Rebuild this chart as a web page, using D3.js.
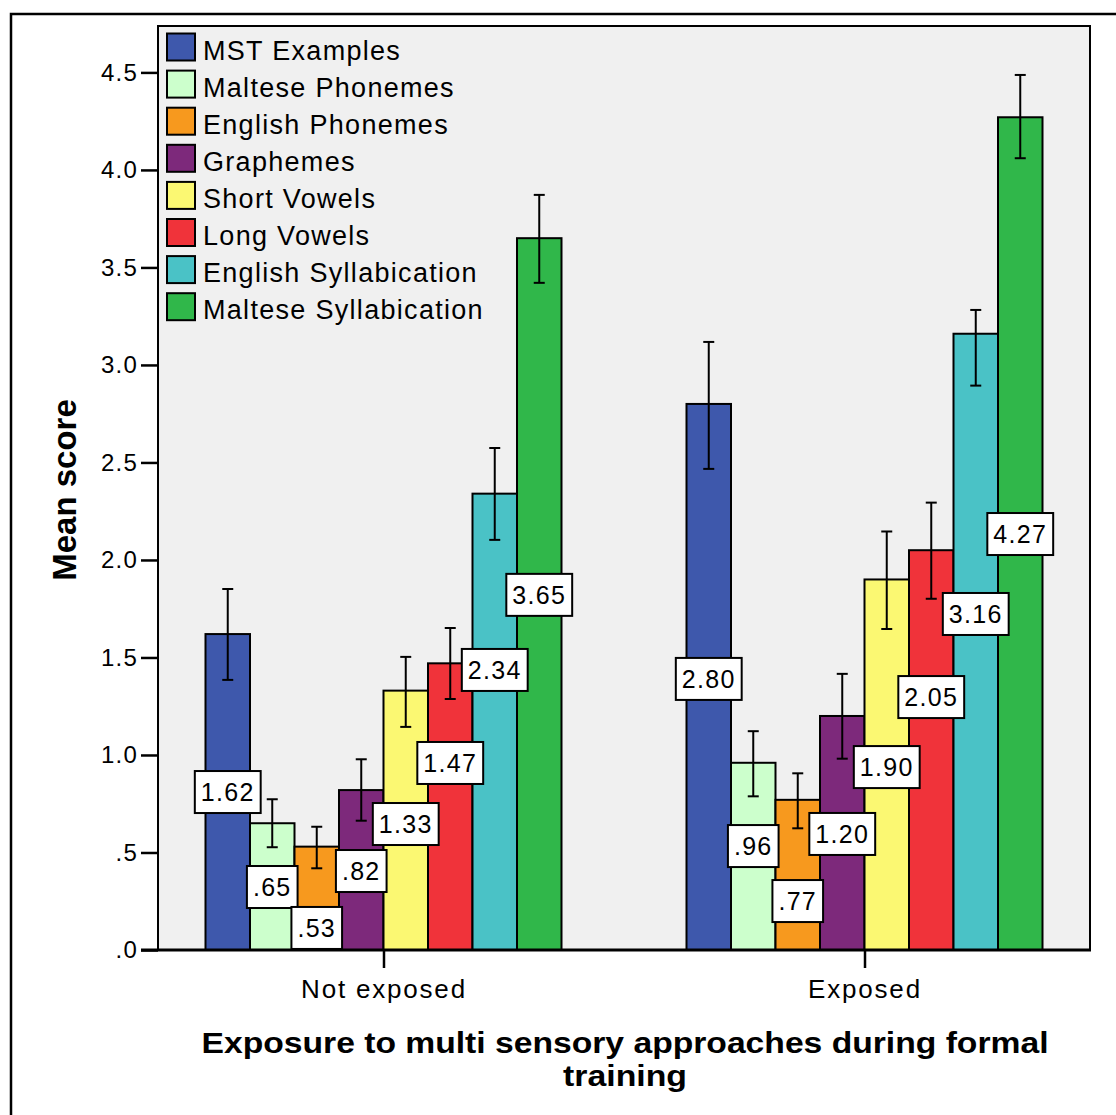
<!DOCTYPE html>
<html><head><meta charset="utf-8">
<script src="https://cdn.jsdelivr.net/npm/d3@7"></script>
<style>
html,body{margin:0;padding:0;background:#fff;}
svg text{font-family:"Liberation Sans",Arial,sans-serif;fill:#000;}
</style></head>
<body>
<svg id="chart" width="1116" height="1115"></svg>
<script>
const groups = ["Not exposed", "Exposed"];
const seriesNames = ["MST Examples","Maltese Phonemes","English Phonemes","Graphemes","Short Vowels","Long Vowels","English Syllabication","Maltese Syllabication"];
const seriesColors = ["#3e58ac","#ccffcc","#f7991e","#7d297b","#fbf872","#f0333a","#4ac2c6","#30b74a"];
const notExposedMeans = [1.62, 0.65, 0.53, 0.82, 1.33, 1.47, 2.34, 3.65];
const exposedMeans    = [2.80, 0.96, 0.77, 1.20, 1.90, 2.05, 3.16, 4.27];
const notExposedLow   = [1.385, 0.527, 0.419, 0.663, 1.144, 1.287, 2.103, 3.421];
const notExposedHigh  = [1.851, 0.773, 0.632, 0.978, 1.503, 1.651, 2.574, 3.872];
const exposedLow      = [2.467, 0.788, 0.624, 0.981, 1.646, 1.801, 2.894, 4.060];
const exposedHigh     = [3.118, 1.122, 0.906, 1.416, 2.146, 2.294, 3.282, 4.487];
// value (in score units) at which each data label is anchored, as placed in the original
const notExposedLabelAt = [0.810, 0.323, 0.113, 0.405, 0.646, 0.959, 1.436, 1.821];
const exposedLabelAt    = [1.390, 0.533, 0.251, 0.595, 0.938, 1.297, 1.723, 2.133];
const yTicks = [0, 0.5, 1.0, 1.5, 2.0, 2.5, 3.0, 3.5, 4.0, 4.5];
const yTickLabels = [".0", ".5", "1.0", "1.5", "2.0", "2.5", "3.0", "3.5", "4.0", "4.5"];
const yTitle = "Mean score";
const xTitleLines = ["Exposure to multi sensory approaches during formal", "training"];

const means = [notExposedMeans, exposedMeans];
const lows = [notExposedLow, exposedLow];
const highs = [notExposedHigh, exposedHigh];
const labelAt = [notExposedLabelAt, exposedLabelAt];

const svg = d3.select("#chart");
const L = 158, R = 1090, T = 26, B = 950;

// outer frame
svg.append("rect").attr("x", 11).attr("y", 14).attr("width", 1200).attr("height", 1200)
  .attr("fill", "none").attr("stroke", "#000").attr("stroke-width", 2.5);

const y = d3.scaleLinear().domain([0, 4.738]).range([B, T]);
const x0 = d3.scalePoint().domain(groups).range([L, R]).padding(0.4688);
const x1 = d3.scaleBand().domain(seriesNames).range([-178, 178]).padding(0);

// plot background
svg.append("rect").attr("x", L).attr("y", T).attr("width", R - L).attr("height", B - T)
  .attr("fill", "#f0f0f0").attr("stroke", "#000").attr("stroke-width", 2);

// data rows
const rows = [];
groups.forEach((g, gi) => seriesNames.forEach((s, si) => rows.push({
  g, s, si, v: means[gi][si], lo: lows[gi][si], hi: highs[gi][si], la: labelAt[gi][si]
})));

// bars
svg.append("g").selectAll("rect").data(rows).join("rect")
  .attr("x", d => x0(d.g) + x1(d.s))
  .attr("y", d => y(d.v))
  .attr("width", x1.bandwidth())
  .attr("height", d => B - y(d.v))
  .attr("fill", d => seriesColors[d.si])
  .attr("stroke", "#000").attr("stroke-width", 2);

// error bars
const eg = svg.append("g").attr("stroke", "#000").attr("stroke-width", 2);
rows.forEach(d => {
  const cx = x0(d.g) + x1(d.s) + x1.bandwidth() / 2;
  eg.append("line").attr("x1", cx).attr("x2", cx).attr("y1", y(d.lo)).attr("y2", y(d.hi));
  eg.append("line").attr("x1", cx - 5.5).attr("x2", cx + 5.5).attr("y1", y(d.lo)).attr("y2", y(d.lo));
  eg.append("line").attr("x1", cx - 5.5).attr("x2", cx + 5.5).attr("y1", y(d.hi)).attr("y2", y(d.hi));
});

// y axis
const yAxis = d3.axisLeft(y).tickValues(yTicks).tickFormat((d, i) => yTickLabels[i]).tickSize(17).tickPadding(3);
const yg = svg.append("g").attr("transform", `translate(${L},0)`).call(yAxis);
yg.select(".domain").remove();
yg.selectAll(".tick line").attr("stroke", "#000").attr("stroke-width", 2.5);
yg.selectAll(".tick text").attr("font-size", 24).style("letter-spacing", "1.2px")
  .style("font-family", "'Liberation Sans', Arial, sans-serif").attr("fill", "#000");

// x axis
const xAxis = d3.axisBottom(x0).tickSize(18).tickPadding(12);
const xg = svg.append("g").attr("transform", `translate(0,${B})`).call(xAxis);
xg.select(".domain").remove();
xg.selectAll(".tick line").attr("stroke", "#000").attr("stroke-width", 2.5);
xg.selectAll(".tick text").attr("font-size", 26).style("letter-spacing", "1.8px")
  .style("font-family", "'Liberation Sans', Arial, sans-serif").attr("fill", "#000");
svg.append("line").attr("x1", 141).attr("x2", R + 1).attr("y1", B).attr("y2", B)
  .attr("stroke", "#000").attr("stroke-width", 3);

// value labels
const lg = svg.append("g");
const fmt = v => d3.format(".2f")(v).replace(/^0\./, ".");
rows.forEach(d => {
  const cx = x0(d.g) + x1(d.s) + x1.bandwidth() / 2;
  const cy = y(d.la);
  const t = lg.append("text").attr("x", cx).attr("y", cy + 9).attr("text-anchor", "middle")
    .attr("font-size", 25).style("letter-spacing", "1.3px").text(fmt(d.v));
  const bb = t.node().getBBox();
  const w = bb.width + 12, h = 42;
  lg.insert("rect", () => t.node()).attr("x", cx - w / 2).attr("y", cy - h / 2)
    .attr("width", w).attr("height", h).attr("fill", "#fff").attr("stroke", "#000").attr("stroke-width", 2);
});

// legend
const leg = svg.append("g");
seriesNames.forEach((s, i) => {
  const yy = 33.5 + i * 37.1;
  leg.append("rect").attr("x", 167).attr("y", yy).attr("width", 28).attr("height", 27)
    .attr("fill", seriesColors[i]).attr("stroke", "#000").attr("stroke-width", 2);
  leg.append("text").attr("x", 203).attr("y", yy + 26).attr("font-size", 27)
    .style("letter-spacing", "1.3px").text(s);
});

// y title
svg.append("text").attr("transform", `translate(76,490) rotate(-90)`)
  .attr("text-anchor", "middle").attr("font-size", 33).attr("font-weight", "bold").text(yTitle);

// x title
const xtLen = [847, 124];
xTitleLines.forEach((line, i) => {
  svg.append("text").attr("x", 625).attr("y", 1053 + i * 33).attr("text-anchor", "middle")
    .attr("font-size", 30).attr("font-weight", "bold")
    .attr("textLength", xtLen[i]).attr("lengthAdjust", "spacingAndGlyphs").text(line);
});
</script>
</body></html>
